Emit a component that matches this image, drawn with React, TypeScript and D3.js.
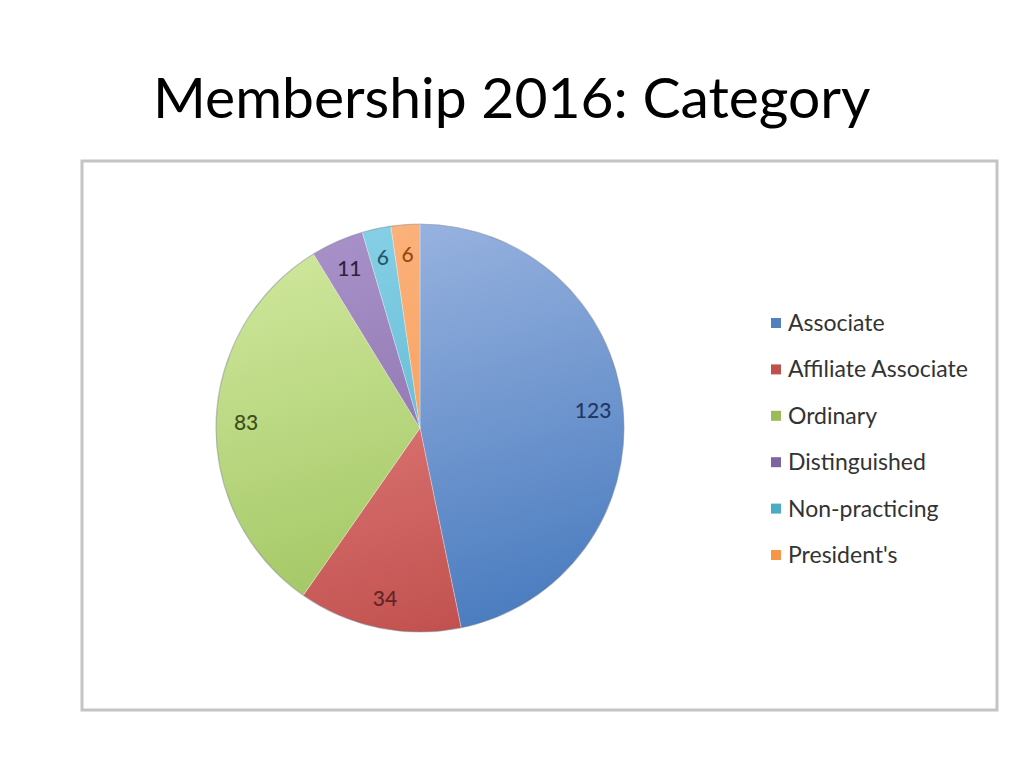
import * as d3 from 'd3';

const categories = ['Associate', 'Affiliate Associate', 'Ordinary', 'Distinguished', 'Non-practicing', "President's"];
const counts = [123, 34, 83, 11, 6, 6];
const baseColors = ['#4a7cbf', '#c0504d', '#9bc15a', '#8064a2', '#4bacc6', '#f79646'];
const lightColors = ['#9ab4e0', '#ec8c8c', '#cfe79c', '#a891c8', '#86d0e6', '#fbb27c'];
const legendColors = ['#4f81bd', '#c0504d', '#9bbb59', '#8064a2', '#4bacc6', '#f79646'];
const labelColors = ['#1f3864', '#632523', '#3d4f1a', '#2f2145', '#215868', '#974806'];

type Slice = { name: string; value: number; i: number };

export default function App() {
  const width = 1024;
  const height = 768;
  const cx = 420;
  const cy = 428;
  const radius = 204;

  const rows: Slice[] = categories.map((name, i) => ({ name, value: counts[i], i }));
  const pie = d3.pie<Slice>().sort(null).value((d) => d.value);
  const arcs = pie(rows);
  const arc = d3.arc<d3.PieArcDatum<Slice>>().innerRadius(0).outerRadius(radius);
  const labelArc = d3.arc<d3.PieArcDatum<Slice>>().innerRadius(174).outerRadius(174);

  const legendY = d3.scalePoint<string>().domain(categories).range([323, 555]);

  return (
    <div style={{ margin: -8 }}>
      <svg width={width} height={height} viewBox={`0 0 ${width} ${height}`} style={{ display: 'block', background: '#fff' }}>
        <defs>
          {baseColors.map((c, i) => (
            <linearGradient
              key={i}
              id={`grad-${i}`}
              gradientUnits="userSpaceOnUse"
              x1={-radius * 0.3}
              y1={-radius}
              x2={radius * 0.3}
              y2={radius}
            >
              <stop offset="0%" stopColor={lightColors[i]} />
              <stop offset="100%" stopColor={c} />
            </linearGradient>
          ))}
        </defs>

        <text
          x={153}
          y={118}
          fontFamily="Lato, 'Open Sans', sans-serif"
          fontSize={57}
          fill="#000"
        >
          Membership 2016: Category
        </text>

        <rect x={82} y={161} width={915} height={549} fill="#fff" stroke="#c4c4c4" strokeWidth={3} />

        <g transform={`translate(${cx},${cy})`}>
          {arcs.map((a) => (
            <path key={a.data.name} d={arc(a) ?? ''} fill={`url(#grad-${a.data.i})`} stroke="#ffffff" strokeOpacity={0.35} strokeWidth={0.8} />
          ))}
          <circle r={radius} fill="none" stroke="#3a4a60" strokeOpacity={0.3} strokeWidth={1.2} />
          {arcs.map((a) => {
            const [lx, ly] = labelArc.centroid(a);
            return (
              <text
                key={`l-${a.data.name}`}
                x={lx}
                y={ly}
                dy="0.35em"
                textAnchor="middle"
                fontFamily="Lato, 'Open Sans', sans-serif"
                fontSize={21}
                fontWeight={500}
                fill={labelColors[a.data.i]}
              >
                {a.data.value}
              </text>
            );
          })}
        </g>

        <g>
          {categories.map((name, i) => (
            <g key={name} transform={`translate(0,${legendY(name)})`}>
              <rect x={771} y={-5} width={10} height={10} fill={legendColors[i]} />
              <text
                x={788}
                y={0}
                dy="0.35em"
                fontFamily="Lato, 'Open Sans', sans-serif"
                fontSize={23}
                fill="#333"
              >
                {name}
              </text>
            </g>
          ))}
        </g>
      </svg>
    </div>
  );
}
